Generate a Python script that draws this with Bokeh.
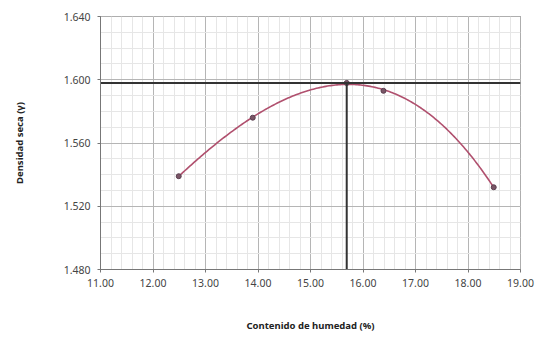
import numpy as np
from bokeh.plotting import figure
from bokeh.models import FixedTicker, NumeralTickFormatter
from bokeh.embed import file_html
from bokeh.resources import INLINE

# data
humedad = [12.49, 13.90, 15.69, 16.39, 18.49]
densidad = [1.539, 1.576, 1.598, 1.593, 1.532]
hum_opt = 15.69
dens_max = 1.598
x_ticks = [11, 12, 13, 14, 15, 16, 17, 18, 19]
y_ticks = [1.48, 1.52, 1.56, 1.60, 1.64]

# smooth trend curve fitted to the measured points
coef = np.polyfit(humedad, densidad, 3)
cx = np.linspace(min(humedad), max(humedad), 200)
cy = np.polyval(coef, cx)

p = figure(width=539, height=339, output_backend="svg", toolbar_location=None,
           x_range=(11, 19), y_range=(1.48, 1.64),
           min_border_left=100, min_border_right=19, min_border_top=16, min_border_bottom=70)

p.outline_line_color = "#777777"
p.outline_line_width = 1

for ax in (p.xaxis[0], p.yaxis[0]):
    ax.major_label_text_font = "Noto Sans"
    ax.major_label_text_font_size = "10.5px"
    ax.major_label_text_color = "#444444"
    ax.axis_line_color = "#777777"
    ax.major_tick_line_color = "#777777"
    ax.major_tick_in = 0
    ax.major_tick_out = 3
    ax.minor_tick_line_color = None
    ax.axis_label_text_font = "Noto Sans"
    ax.axis_label_text_font_size = "9.5px"
    ax.axis_label_text_font_style = "bold"
    ax.axis_label_text_color = "#222222"

p.xaxis.ticker = FixedTicker(ticks=x_ticks, minor_ticks=list(np.arange(11, 19.01, 0.2)))
p.yaxis.ticker = FixedTicker(ticks=y_ticks, minor_ticks=list(np.arange(1.48, 1.6401, 0.01)))
p.xaxis.formatter = NumeralTickFormatter(format="0.00")
p.yaxis.formatter = NumeralTickFormatter(format="0.000")
p.xaxis.axis_label = "Contenido de humedad (%)"
p.yaxis.axis_label = "Densidad seca (γ)"
p.xaxis.axis_label_standoff = 29
p.yaxis.axis_label_standoff = 35
p.xaxis.major_label_standoff = 5
p.yaxis.major_label_standoff = 6

p.xgrid.grid_line_color = "#b5b5b5"
p.ygrid.grid_line_color = "#b5b5b5"
p.xgrid.minor_grid_line_color = "#e6e6e6"
p.ygrid.minor_grid_line_color = "#e6e6e6"

p.line(cx, cy, line_color="#b0506e", line_width=1.6)
p.scatter(humedad, densidad, size=5, marker="circle", fill_color="#7a5566", line_color="#5a4050")

p.line([11, 19], [dens_max, dens_max], line_color="#333333", line_width=2)
p.line([hum_opt, hum_opt], [1.48, dens_max], line_color="#333333", line_width=2)

p.background_fill_color = "white"
p.border_fill_color = "white"

open("out.html", "w").write(file_html(p, INLINE))
